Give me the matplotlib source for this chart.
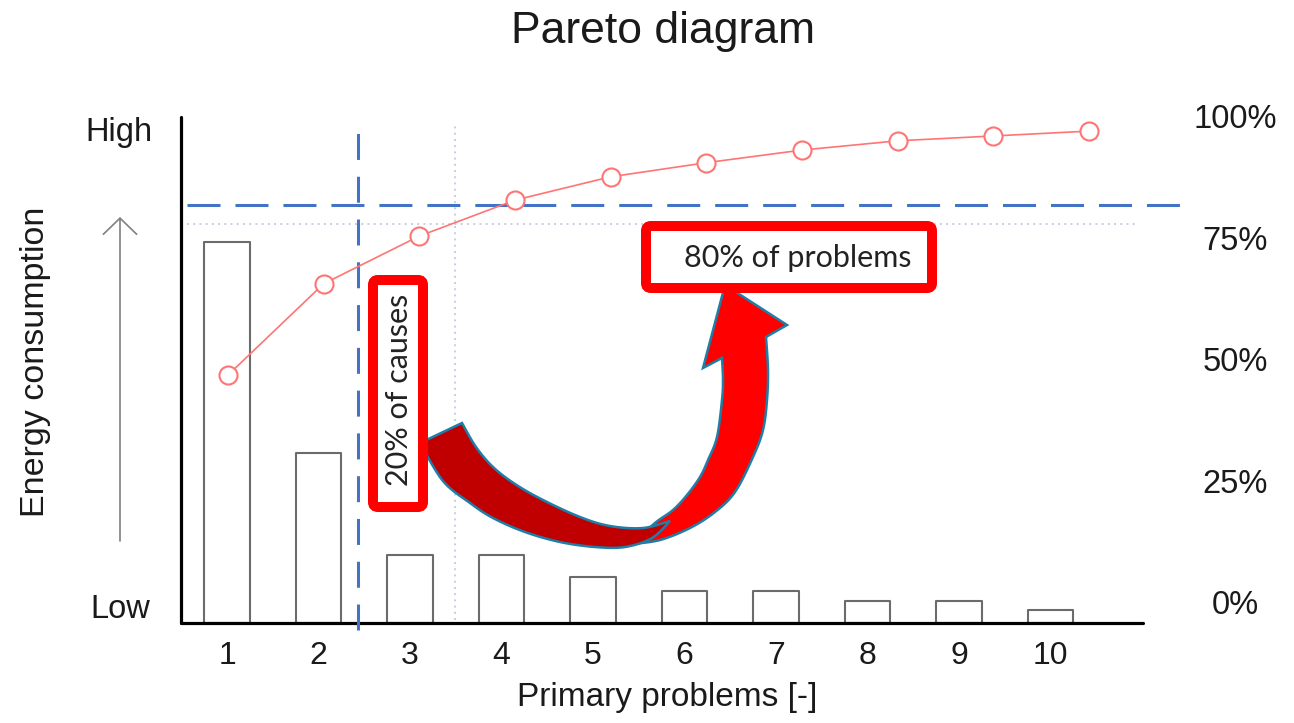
import numpy as np
import matplotlib
matplotlib.use("Agg")
import matplotlib.pyplot as plt
from matplotlib.patches import Polygon, FancyBboxPatch

# ---------------- data ----------------
categories = [1, 2, 3, 4, 5, 6, 7, 8, 9, 10]
energy = [75.3, 33.6, 13.4, 13.4, 9.1, 6.3, 6.3, 4.3, 4.3, 2.6]          # bar heights (relative)
cumulative_pct = [47.5, 66.3, 76.1, 83.5, 88.3, 91.2, 93.8, 95.7, 96.7, 97.7]
pct_ticks = [0, 25, 50, 75, 100]
pct_labels = ["0%", "25%", "50%", "75%", "100%"]
x_tick_labels = [str(c) for c in categories]
ref_x_cause = 2.43      # blue vertical dashed line (main x units)
ref_y_problem = 82.5    # blue horizontal dashed line (percent)
grid_x = 3.49           # dotted guide (main x units)
grid_y = 78.6           # dotted guide (percent)

W, H = 1294, 723
plt.rcParams['font.family'] = ['Liberation Sans', 'DejaVu Sans']
TXT = '#1a1a1a'

fig = plt.figure(figsize=(W / 100, H / 100), dpi=100)
fig.patch.set_facecolor('white')

# axes placement (pixels)
L, R, T, B = 181, 1143, 117, 623
pos = [L / W, 1 - B / H, (R - L) / W, (B - T) / H]

ax = fig.add_axes(pos)
ax.bar(categories, energy, width=0.5, facecolor='white', edgecolor='#6b6b6b',
       linewidth=1.5, joinstyle='round', zorder=2)
ax.set_xlim(0.497, 11.01)
ax.set_ylim(0, 100)
for s in ['top', 'right']:
    ax.spines[s].set_visible(False)
for s in ['left', 'bottom']:
    ax.spines[s].set_linewidth(2.3)
    ax.spines[s].set_color('black')
    ax.spines[s].set_capstyle('round')
ax.set_yticks([])
ax.set_xticks(categories)
ax.set_xticklabels(x_tick_labels, fontsize=23, color=TXT)
ax.tick_params(axis='x', length=0, pad=13)

# reference lines in main axes
ax.axvline(ref_x_cause, ymin=-0.014, ymax=0.998, color='#4472C4', lw=2.2,
           dashes=(8.5, 5.5), clip_on=False, zorder=3)
ax.axvline(grid_x, ymin=0.006, ymax=0.988, color='#c5cfe0', lw=1.4,
           linestyle=(0, (1, 2.2)), zorder=1)

# cumulative line axes (own scale)
ax2 = fig.add_axes(pos, facecolor='none')
ax2.set_xlim(0.509, 10.564)
ax2.set_ylim(-3.5, 100.6)
ax2.axis('off')
ax2.axhline(ref_y_problem, xmin=0.006, xmax=1.0405, color='#4472C4', lw=2.2,
            dashes=(10.8, 4.9), clip_on=False, zorder=3)
ax2.axhline(grid_y, xmin=0.006, xmax=0.995, color='#c5cfe0', lw=1.4,
            linestyle=(0, (1, 2.2)), zorder=1)
ax2.plot(categories, cumulative_pct, color='#ff7474', lw=1.2, marker='o',
         markersize=13, markerfacecolor='white', markeredgecolor='#ff7474',
         markeredgewidth=1.5, zorder=4, clip_on=False)
for v, lab in zip(pct_ticks, pct_labels):
    ax2.text(1.0956, v, lab, transform=ax2.get_yaxis_transform(), ha='center',
             va='center', fontsize=23.5, color=TXT, clip_on=False)

# titles / labels
fig.text(663 / W, 1 - 32 / H, 'Pareto diagram', ha='center', va='center',
         fontsize=32, color=TXT)
fig.text(667.5 / W, 1 - 706 / H, 'Primary problems [-]', ha='center',
         va='baseline', fontsize=24, color=TXT)
fig.text(36 / W, 1 - 362 / H, 'Energy consumption', ha='center', va='center',
         rotation=90, fontsize=24.5, color=TXT)
fig.text(119 / W, 1 - 133 / H, 'High', ha='center', va='center', fontsize=23.5, color=TXT)
fig.text(120 / W, 1 - 609 / H, 'Low', ha='center', va='center', fontsize=23.5, color=TXT)

# overlay for annotations (pixel coordinates)
ov = fig.add_axes([0, 0, 1, 1], facecolor='none', zorder=5)
ov.set_xlim(0, W)
ov.set_ylim(H, 0)
ov.axis('off')

ov.annotate('', xy=(120, 217), xytext=(120, 541),
            arrowprops=dict(arrowstyle='->,head_length=0.58,head_width=0.6',
                            color='#808080', lw=1.2, mutation_scale=20,
                            shrinkA=0, shrinkB=0))


def smooth(pts, n=14):
    pts = np.asarray(pts, float)
    P = np.vstack([pts[0], pts, pts[-1]])
    out = []
    t = np.linspace(0, 1, n, endpoint=False)[:, None]
    for i in range(1, len(P) - 2):
        p0, p1, p2, p3 = P[i - 1], P[i], P[i + 1], P[i + 2]
        out.append(0.5 * ((2 * p1) + (-p0 + p2) * t
                          + (2 * p0 - 5 * p1 + 4 * p2 - p3) * t ** 2
                          + (-p0 + 3 * p1 - 3 * p2 + p3) * t ** 3))
    out.append(pts[-1:])
    return np.vstack(out)


EDGE = '#1f7ea8'
# bright rising part with head
b_outer = [(632, 544), (660, 540), (690, 528), (715, 512), (735, 492),
           (753, 457), (763, 430), (767, 400), (768, 370), (766, 337)]
b_head = [(787, 325), (725, 285), (703, 368), (722, 358)]
b_inner = [(722, 358), (723, 380), (722, 400), (717, 437), (708, 460), (700, 477),
           (687, 495), (673, 510), (655, 523), (632, 544)]
bright = np.vstack([smooth(b_outer), np.array(b_head), smooth(b_inner)])
ov.add_patch(Polygon(bright, closed=True, fc='#ff0000', ec=EDGE, lw=1.8,
                     joinstyle='miter'))
# dark tail
d_outer = [(420, 443), (443, 481), (470, 503), (493, 518), (525, 532), (560, 542),
           (595, 547), (625, 547), (652, 538), (670, 521)]
d_inner = [(670, 521), (643, 528), (610, 526), (580, 517), (543, 500), (515, 484),
           (493, 467), (476, 447), (462, 423)]
dark = np.vstack([smooth(d_outer), smooth(d_inner)])
ov.add_patch(Polygon(dark, closed=True, fc='#c00000', ec=EDGE, lw=1.8,
                     joinstyle='miter'))

# red boxes
ov.add_patch(FancyBboxPatch((373, 280), 50, 227, boxstyle='round,pad=0,rounding_size=5',
                            fc='white', ec='#ff0000', lw=7.2))
ov.text(399, 390, '20% of causes', rotation=90, ha='center', va='center',
        fontsize=22, color='#222222', family=['Lato', 'DejaVu Sans'])
ov.add_patch(FancyBboxPatch((646, 226), 286, 62, boxstyle='round,pad=0,rounding_size=5',
                            fc='white', ec='#ff0000', lw=7.2))
ov.text(798, 258, '80% of problems', ha='center', va='center',
        fontsize=22, color='#222222', family=['Lato', 'DejaVu Sans'])

fig.savefig('out.png', dpi=100, facecolor='white')
